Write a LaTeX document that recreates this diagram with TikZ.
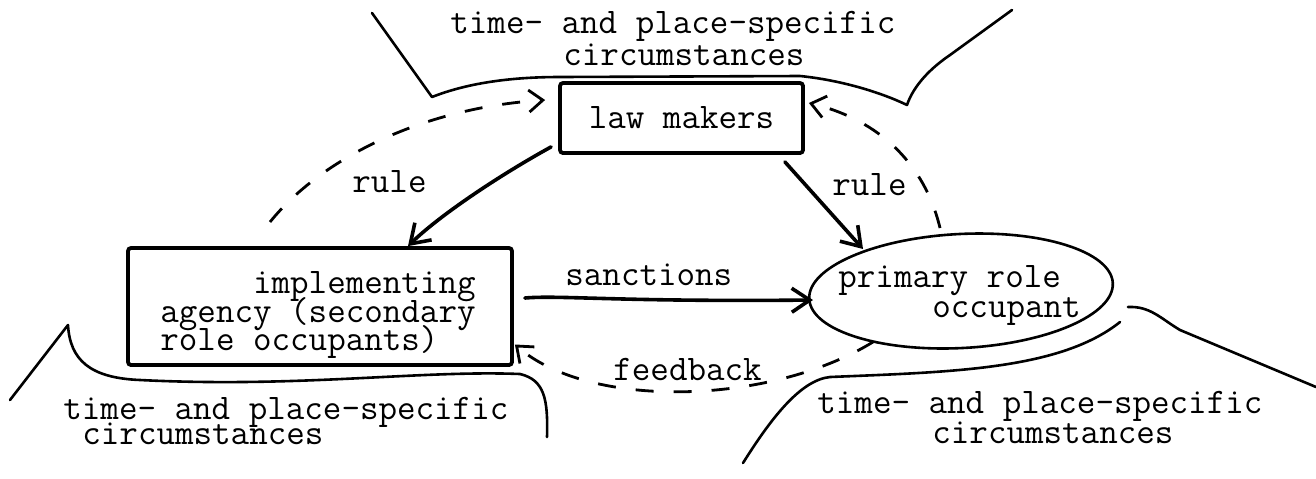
\documentclass[tikz,border=0pt]{standalone}
\usetikzlibrary{arrows.meta,shapes.geometric,calc}
\begin{document}
\begin{tikzpicture}[x=0.5pt,y=-0.5pt,
  tt/.style={font=\ttfamily\fontsize{18}{20}\selectfont},
  txt/.style={tt, inner sep=0pt, anchor=base west},
  boxnode/.style={draw, line width=1.9pt, rounded corners=1.5pt, inner sep=0pt},
  env/.style={line width=1.3pt, line cap=round, line join=round},
  arr/.style={line width=1.8pt, line cap=round, -{Straight Barb[length=9pt,width=12pt]}},
  fb/.style={line width=1.4pt, dash pattern=on 9pt off 10pt, -{Straight Barb[length=7pt,width=11pt]}}]

\useasboundingbox (0,0) rectangle (1316,478);
\fill[white] (0,0) rectangle (1316,478);

% boxes and ellipse
\node[boxnode, tt, minimum width=121.5pt, minimum height=35pt] (lm) at (681.5,118) {law makers};
\node[boxnode, minimum width=192pt, minimum height=58.5pt] (impl) at (320,306.5) {};
\node[draw, ellipse, rotate=3, line width=1.3pt, minimum width=152pt, minimum height=57pt, inner sep=0pt] (pro) at (961,291) {};

% texts
\node[txt] (top1) at (450,33) {time- and place-specific};
\node[txt] (top2) at (563,65) {circumstances};
\node[txt] (impl1) at (160,293) {\phantom{aaaaa}implementing};
\node[txt] (impl2) at (160,322) {agency (secondary};
\node[txt] (impl3) at (160,350) {role occupants)};
\node[txt] (pro1) at (838,287) {primary role};
\node[txt] (pro2) at (932,317) {occupant};
\node[txt] (rulel) at (352,192) {rule};
\node[txt] (ruler) at (832,195) {rule};
\node[txt] (sanc) at (565,285) {sanctions};
\node[txt] (feed) at (613,380) {feedback};
\node[txt] (bl1) at (63,419) {time- and place-specific};
\node[txt] (bl2) at (82,444) {circumstances};
\node[txt] (br1) at (817,413) {time- and place-specific};
\node[txt] (br2) at (932,443) {circumstances};

% circumstance boundaries
\draw[env] (372,13) -- (432,97) .. controls (470,82) and (515,77) .. (560,77) -- (800,76)
  .. controls (840,80) and (880,92) .. (907,105) .. controls (912,90) and (925,72) .. (950,55) -- (1012,10);
\draw[env] (10,400) -- (68,325) .. controls (70,360) and (90,378) .. (140,380)
  .. controls (300,388) and (420,370) .. (520,374) .. controls (545,380) and (548,400) .. (547,437);
\draw[env] (743,463) .. controls (770,420) and (800,380) .. (830,377)
  .. controls (950,372) and (1060,370) .. (1120,322);
\draw[env] (1128,307) .. controls (1150,306) and (1160,318) .. (1180,330) -- (1316,387);

% rule arrows
\draw[arr] ([shift={(-7,-8)}]lm.south west) .. controls (500,175) and (440,215) .. ([shift={(88,0)}]impl.north);
\draw[arr] ([shift={(-20,7)}]lm.south east) -- (863,249);

% sanctions
\draw[arr] ([shift={(11,-8.5)}]impl.east) .. controls (560,295) and (620,302) .. (813,300);

% feedback (dashed)
\coordinate (fbl) at (270,222);
\draw[fb] (fbl) .. controls (320,160) and (420,108) .. ([shift={(-13,-18)}]lm.west);
\draw[fb] (940,228) .. controls (925,165) and (880,120) .. ([shift={(4,-15)}]lm.east);
\draw[fb] (873,342) .. controls (770,405) and (590,410) .. ([shift={(1,38)}]impl.east);
\end{tikzpicture}
\end{document}
